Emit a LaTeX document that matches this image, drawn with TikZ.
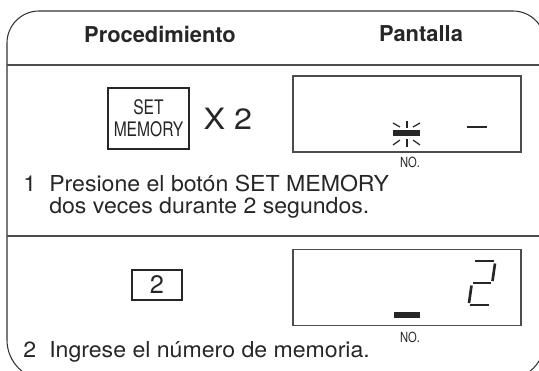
\documentclass[tikz,border=0pt]{standalone}
\usepackage{fontspec}
\setmainfont{TeX Gyre Heros}
\usetikzlibrary{positioning}

\begin{document}
\begin{tikzpicture}[x=0.75pt,y=-0.75pt,
    rule/.style={draw=black!70,line width=1.1pt},
    keybox/.style={draw=black!85,line width=1.4pt,inner sep=0pt},
    lcd/.style={draw=black!70,line width=1pt,minimum width=171pt,minimum height=57pt,inner sep=0pt},
    body/.style={anchor=base west,inner sep=0pt,xscale=1.05,text=black!85,font=\fontsize{16.5}{19}\selectfont},
    head/.style={inner sep=0pt,text=black!85,font=\bfseries\fontsize{16.4}{19}\selectfont},
    tag/.style={inner sep=0pt,xscale=0.8,text=black!85,font=\fontsize{10.5}{11}\selectfont},
    seg/.style={line width=2pt,black!85},
    ray/.style={line width=0.9pt,black!85}]
    \clip (0,0) rectangle (539,371);

    % Frame
    \draw[black!80,line width=0.8pt,rounded corners=24pt] (545,200) -- (545,11) -- (7,11) -- (7,200);
    \draw[black!80,line width=0.8pt,rounded corners=30pt] (7,200) -- (7,380) -- (545,380) -- (545,200);

    % Header
    \node[head] (proc) at (160,34) {Procedimiento};
    \node[head] (pant) at (421,34) {Pantalla};
    \draw[rule] (7,65) -- (545,65);
    \draw[rule] (7,236) -- (545,236);

    % Step 1: key and display
    \node[keybox,minimum width=60.75pt,minimum height=45.75pt] (setkey) at (148.5,118.5) {};
    \node[inner sep=0pt,align=center,xscale=0.78,text=black!85,font=\fontsize{15}{16.5}\selectfont] (setlbl) at (setkey) {SET\\MEMORY};
    \node[inner sep=0pt,right=10pt of setkey,xscale=1.1,text=black!85,font=\fontsize{22}{24}\selectfont] (times) {X 2};

    \node[lcd] (disp1) at (407,114) {};
    \fill[black!85] (393,130) rectangle (420,136);
    \foreach \xa/\ya/\xb/\yb in {407/121/407/128, 407/139/407/147,
        393/123/400/127, 413/127/420/123, 393/145/400/140, 413/140/420/145} {
        \draw[ray] (\xa,\ya) -- (\xb,\yb);
    }
    \draw[seg] (467,127) -- (487,127);
    \node[tag] (no1) at (410,162) {NO.};

    \node[body] (n1) at (23,191) {1};
    \node[body] (t1a) at (49,191) {Presione el botón SET MEMORY};
    \node[body] (t1b) at (49,213) {dos veces durante 2 segundos.};

    % Step 2: key and display
    \node[keybox,line width=1.1pt,minimum width=37.5pt,minimum height=22.5pt,
        text=black!85,font=\fontsize{19}{21}\selectfont] (numkey) at (157,285) {2};

    \node[lcd] (disp2) at (407,287.5) {};
    \fill[black!85] (394,312) rectangle (420,318);
    \draw[seg] (475,261) -- (494,261);
    \draw[seg] (495,263.5) -- (492.5,281);
    \draw[seg] (473,283) -- (491,283);
    \draw[seg] (471.5,285.5) -- (469,303);
    \draw[seg] (470,305) -- (489,305);
    \node[tag] (no2) at (410,337) {NO.};

    \node[body] (n2) at (23,357) {2};
    \node[body] (t2) at (49,357) {Ingrese el número de memoria.};
\end{tikzpicture}
\end{document}
